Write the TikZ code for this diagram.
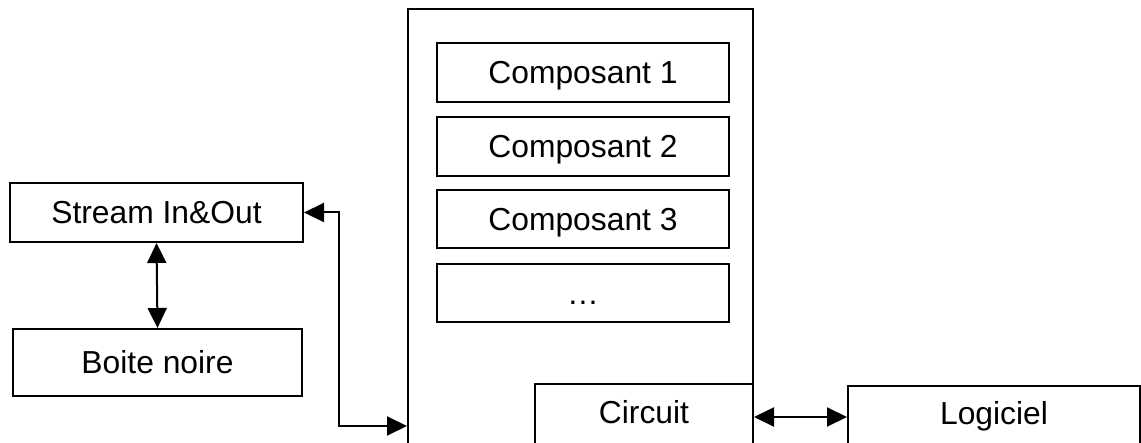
\documentclass[tikz,border=0pt]{standalone}
\usepackage{fontspec}
\setmainfont{Liberation Sans}
\usetikzlibrary{arrows.meta}
\begin{document}
\begin{tikzpicture}[x=1pt,y=-1pt,
  box/.style={draw=black,line width=2pt,rectangle,inner sep=0pt,
    font=\fontsize{31.8}{36}\selectfont,text height=22.8pt,text depth=0pt},
  link/.style={line width=2pt,{Triangle[length=20pt,width=19pt]}-{Triangle[length=20pt,width=19pt]}}]
\useasboundingbox (0,0) rectangle (1141,443);
\clip (0,0) rectangle (1141,443);
% main container and its parts
\node[box,minimum width=345,minimum height=437] (big) at (580.5,227.5) {};
\node[box,minimum width=292,minimum height=59] (c1) at (583,72.5) {Composant 1};
\node[box,minimum width=292,minimum height=59] (c2) at (583,146.5) {Composant 2};
\node[box,minimum width=292,minimum height=58] (c3) at (583,219) {Composant 3};
\node[box,minimum width=292,minimum height=58] (dots) at (583,293) {\dots};
\node[box,minimum width=218,minimum height=62,fill=white,text depth=5pt] (circuit) at (644,415) {Circuit};
% left side blocks
\node[box,minimum width=293,minimum height=59] (stream) at (156.5,212.5) {Stream In\&Out};
\node[box,minimum width=289,minimum height=67] (boite) at (157.5,362.5) {Boite noire};
% right side block
\node[box,minimum width=292,minimum height=60,text depth=6pt] (logiciel) at (994,416) {Logiciel};
% connectors
\draw[link] (stream.south) -- (boite.north);
\coordinate (jog) at (339,426);
\draw[link] (stream.east) -| (jog) -- (big.west |- jog);
\coordinate (cl) at (800,417);
\draw[link] (circuit.east |- cl) -- (logiciel.west |- cl);
\end{tikzpicture}
\end{document}
